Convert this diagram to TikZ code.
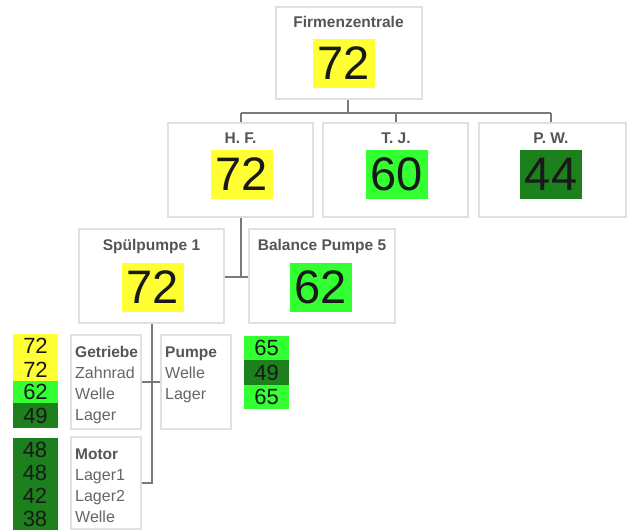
\documentclass[tikz,border=0pt]{standalone}
\usepackage{fontspec}
\setmainfont{Liberation Sans}
\definecolor{ylw}{HTML}{FFFF33}
\definecolor{lgr}{HTML}{33FF33}
\definecolor{dgr}{HTML}{1C801C}
\definecolor{frm}{HTML}{E0E0E0}
\definecolor{lnk}{HTML}{7A7A7A}
\definecolor{ttl}{HTML}{555555}
\definecolor{txt}{HTML}{666666}
\begin{document}
\begin{tikzpicture}[x=1pt,y=-1pt,
  frame/.style={draw=frm, line width=1.3pt, fill=white, inner sep=0pt},
  ttlnode/.style={anchor=base, text=ttl, font=\fontsize{15.5}{15.5}\selectfont\bfseries, inner sep=0pt},
  bignum/.style={inner sep=0pt, minimum width=62pt, minimum height=49pt, font=\fontsize{47}{47}\selectfont, text=black!90},
  cell/.style={inner sep=0pt, minimum width=45pt, font=\fontsize{22}{22}\selectfont, text=black!90},
  item/.style={anchor=base west, inner sep=0pt, text=txt, font=\fontsize{16}{16}\selectfont},
  itemhd/.style={anchor=base west, inner sep=0pt, text=ttl, font=\fontsize{15.5}{15.5}\selectfont\bfseries},
  link/.style={draw=lnk, line width=1.1pt}]
\useasboundingbox (0,0) rectangle (628,530);

% connector joints
\coordinate (j0) at (348,113);
\coordinate (jl) at (241,113);
\coordinate (jr) at (551,113);
\coordinate (jt) at (396,113);
\coordinate (k0) at (241,277);
\coordinate (m0) at (152,483);
\coordinate (g0) at (152,382);

% level 1
\node[frame, minimum width=146pt, minimum height=92pt] (fz) at (349,53) {};
\node[ttlnode] (fzt) at (348.5,27.5) {Firmenzentrale};
\node[bignum, fill=ylw] (fzn) at (343.5,63) {72};

% level 2
\node[frame, minimum width=145pt, minimum height=94pt] (hf) at (240.5,170) {};
\node[ttlnode] (hft) at (240.5,143.5) {H. F.};
\node[bignum, fill=ylw] (hfn) at (241.5,174.5) {72};

\node[frame, minimum width=145pt, minimum height=94pt] (tj) at (395.5,170) {};
\node[ttlnode] (tjt) at (396,143.5) {T. J.};
\node[bignum, fill=lgr] (tjn) at (396.5,174.5) {60};

\node[frame, minimum width=147pt, minimum height=94pt] (pw) at (552.5,170) {};
\node[ttlnode] (pwt) at (551,143.5) {P. W.};
\node[bignum, fill=dgr] (pwn) at (551,174.5) {44};

% level 3
\node[frame, minimum width=145pt, minimum height=94pt] (sp) at (151.5,276) {};
\node[ttlnode] (spt) at (151.5,250.5) {Spülpumpe 1};
\node[bignum, fill=ylw] (spn) at (153,287.5) {72};

\node[frame, minimum width=146pt, minimum height=94pt] (bp) at (322,276) {};
\node[ttlnode] (bpt) at (322,250.5) {Balance Pumpe 5};
\node[bignum, fill=lgr] (bpn) at (321,287.5) {62};

% level 4 boxes
\node[frame, minimum width=70pt, minimum height=94pt] (ge) at (106,382) {};
\node[frame, minimum width=70pt, minimum height=92pt] (mo) at (106,483) {};
\node[frame, minimum width=70pt, minimum height=94pt] (pu) at (196,382) {};

\node[itemhd] (ge1) at (75,357) {Getriebe};
\node[item] (ge2) at (75,378) {Zahnrad};
\node[item] (ge3) at (75,399) {Welle};
\node[item] (ge4) at (75,420) {Lager};

\node[itemhd] (mo1) at (75,459) {Motor};
\node[item] (mo2) at (75,480) {Lager1};
\node[item] (mo3) at (75,501) {Lager2};
\node[item] (mo4) at (75,522) {Welle};

\node[itemhd] (pu1) at (165,357) {Pumpe};
\node[item] (pu2) at (165,378) {Welle};
\node[item] (pu3) at (165,399) {Lager};

% score cells
\node[cell, fill=ylw, minimum height=24pt] (s1) at (35.5,346) {72};
\node[cell, fill=ylw, minimum height=24pt] (s2) at (35.5,369.5) {72};
\node[cell, fill=lgr, minimum height=22pt] (s3) at (35.5,392) {62};
\node[cell, fill=dgr, minimum height=25pt] (s4) at (35.5,415.5) {49};

\node[cell, fill=dgr, minimum height=23pt] (t1) at (35,449.5) {48};
\node[cell, fill=dgr, minimum height=23pt] (t2) at (35,472.5) {48};
\node[cell, fill=dgr, minimum height=23pt] (t3) at (35,495.5) {42};
\node[cell, fill=dgr, minimum height=23pt] (t4) at (35,518.5) {38};

\node[cell, fill=lgr, minimum height=24.5pt] (u1) at (266.5,348) {65};
\node[cell, fill=dgr, minimum height=24.5pt] (u2) at (266.5,372.5) {49};
\node[cell, fill=lgr, minimum height=24.5pt] (u3) at (266.5,397) {65};

% connector lines
\draw[link] (fz.south -| j0) -- (j0);
\draw[link] (jl) -- (jr);
\draw[link] (jl) -- (hf.north -| jl);
\draw[link] (jt) -- (tj.north -| jt);
\draw[link] (jr) -- (pw.north -| jr);
\draw[link] (hf.south -| k0) -- (k0);
\draw[link] (sp.east |- k0) -- (bp.west |- k0);
\draw[link] (sp.south -| m0) -- (m0) -- (mo.east |- m0);
\draw[link] (ge.east |- g0) -- (pu.west |- g0);
\end{tikzpicture}
\end{document}
